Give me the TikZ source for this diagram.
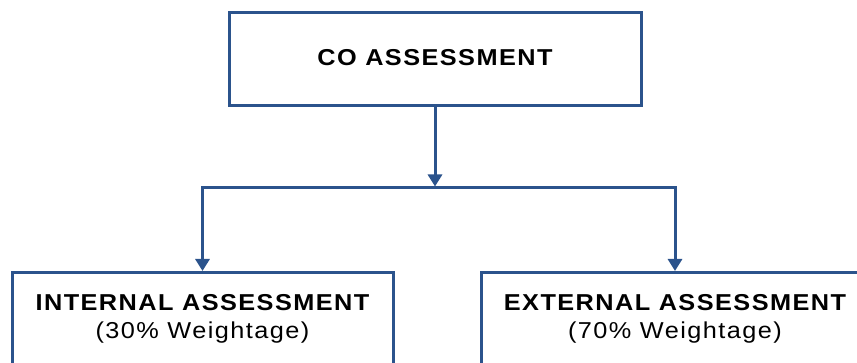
\documentclass[tikz,border=0pt]{standalone}
\usepackage{fontspec}
\setmainfont{Liberation Sans}
\newfontfamily\spaced[LetterSpace=5.7]{Liberation Sans}
\usetikzlibrary{arrows.meta}
\definecolor{boxblue}{RGB}{43,83,140}
\newcommand{\wide}[1]{\scalebox{1.1}[1]{#1}}
\tikzset{
  frame/.style={draw=boxblue, line width=3pt, fill=white, rectangle, inner sep=0pt},
  link/.style={draw=boxblue, line width=3pt, line join=miter},
  tip/.style={-{Triangle[length=12pt,width=14pt]}},
  heading/.style={anchor=base, inner sep=0pt, font=\fontsize{23}{27}\selectfont\spaced\bfseries},
  sub/.style={anchor=base, inner sep=0pt, font=\fontsize{23}{27}\selectfont\spaced}
}
\begin{document}
\begin{tikzpicture}[x=1pt,y=-1pt]
\useasboundingbox (0,0) rectangle (857,363);

% boxes
\node[frame, minimum width=412pt, minimum height=93pt] (co) at (435,59.5) {};
\node[frame, minimum width=381pt, minimum height=92pt] (inl) at (202.5,318.5) {};
\node[frame, minimum width=388pt, minimum height=92pt] (ext) at (675,318.5) {};

% labels
\node[heading] (coT) at (435,65.5) {\wide{CO ASSESSMENT}};
\node[heading] (inT) at (202.5,311) {\wide{INTERNAL ASSESSMENT}};
\node[sub] (inW) at (202.5,338) {\wide{(30\% Weightage)}};
\node[heading] (exT) at (675,311) {\wide{EXTERNAL ASSESSMENT}};
\node[sub] (exW) at (675,338) {\wide{(70\% Weightage)}};

% connectors
\coordinate (hub) at (435,188);
\draw[link, tip, shorten >=1.5pt] (co.south) -- (hub);
\draw[link, tip] (hub) -| (inl.north);
\draw[link, tip] (hub) -| (ext.north);
\end{tikzpicture}
\end{document}
